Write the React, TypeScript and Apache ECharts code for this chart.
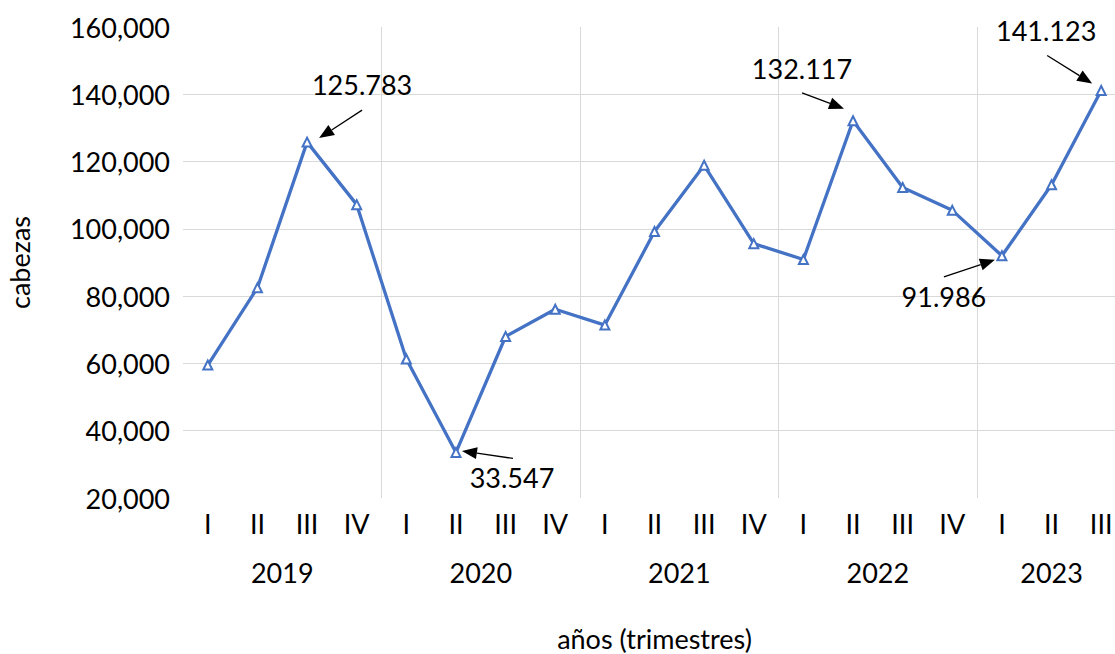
import { useEffect, useRef } from 'react';
import * as echarts from 'echarts';

// ---- data ----
const quarterLabels = ['I', 'II', 'III', 'IV', 'I', 'II', 'III', 'IV', 'I', 'II', 'III', 'IV', 'I', 'II', 'III', 'IV', 'I', 'II', 'III'];
const years = ['2019', '2020', '2021', '2022', '2023'];
const quartersPerYear = [4, 4, 4, 4, 3];
const cabezas = [59500, 82500, 125783, 107200, 61300, 33547, 68000, 76100, 71400, 99200, 118900, 95600, 90900, 132117, 112300, 105500, 91986, 113100, 141123];
const yMin = 20000;
const yMax = 160000;
const yStep = 20000;
const annotatedIndices = [2, 5, 13, 16, 18];

// ---- annotation layout (pixel offsets from the data point) ----
const annotationLayout = [
  { text: [55, -58], tail: [55, -32], tip: [12, -4] },
  { text: [56, 25], tail: [57, 6], tip: [6, -1.5] },
  { text: [-51, -52], tail: [-51, -28], tip: [-9, -12] },
  { text: [-58, 41], tail: [-58, 21], tip: [-7, 4] },
  { text: [-55, -60], tail: [-54, -35], tip: [-9, -7] },
];

const FONT = 'Lato, "Open Sans", sans-serif';
const FONT_SIZE = 27;
const BLUE = '#4472C4';
const GRID = '#d9d9d9';

export default function App() {
  const ref = useRef<HTMLDivElement>(null);

  useEffect(() => {
    const chart = echarts.init(ref.current!, null, { renderer: 'svg' });

    const boundaries: number[] = [];
    const yearCenters: number[] = [];
    let acc = 0;
    quartersPerYear.forEach((n, i) => {
      yearCenters.push(acc + n / 2);
      acc += n;
      if (i < quartersPerYear.length - 1) boundaries.push(acc);
    });

    const option: any = {
      animation: false,
      backgroundColor: '#fff',
      textStyle: { fontFamily: FONT },
      grid: { left: 183, width: 943, top: 27, height: 471, containLabel: false, outerBoundsMode: 'none' },
      xAxis: [
        {
          type: 'category',
          data: quarterLabels,
          boundaryGap: true,
          axisLine: { show: false },
          axisTick: { show: false },
          axisLabel: { interval: 0, margin: 12, color: '#000', fontSize: FONT_SIZE, fontFamily: FONT },
          splitLine: {
            show: true,
            interval: (i: number) => boundaries.includes(i),
            lineStyle: { color: GRID, width: 1 },
          },
          name: 'años (trimestres)',
          nameLocation: 'middle',
          nameGap: 127,
          nameTextStyle: { color: '#000', fontSize: FONT_SIZE, fontFamily: FONT, lineHeight: 27 },
        },
        {
          type: 'value',
          position: 'bottom',
          min: 0,
          max: acc,
          axisLine: { show: false },
          axisTick: { show: false },
          splitLine: { show: false },
          axisLabel: {
            customValues: yearCenters,
            margin: 61,
            color: '#000',
            fontSize: FONT_SIZE,
            fontFamily: FONT,
            formatter: (v: number) => {
              const k = yearCenters.findIndex((c) => Math.abs(c - v) < 1e-6);
              return k >= 0 ? years[k] : '';
            },
          },
        },
      ],
      yAxis: {
        type: 'value',
        min: yMin,
        max: yMax,
        interval: yStep,
        axisLine: { show: false },
        axisTick: { show: false },
        axisLabel: {
          margin: 13,
          color: '#000',
          fontSize: FONT_SIZE,
          fontFamily: FONT,
          formatter: (v: number) => v.toLocaleString('en-US'),
        },
        splitLine: { show: true, showMinLine: false, showMaxLine: false, lineStyle: { color: GRID, width: 1 } },
        name: 'cabezas',
        nameLocation: 'middle',
        nameRotate: 90,
        nameGap: 150,
        nameTextStyle: { color: '#000', fontSize: FONT_SIZE, fontFamily: FONT, lineHeight: 27 },
      },
      series: [
        {
          type: 'line',
          xAxisIndex: 0,
          yAxisIndex: 0,
          data: cabezas,
          symbol: 'triangle',
          symbolSize: 9,
          showAllSymbol: true,
          lineStyle: { color: BLUE, width: 3.3 },
          itemStyle: { color: '#fff', borderColor: BLUE, borderWidth: 2 },
          z: 3,
        },
      ],
    };

    chart.setOption(option);

    const graphics: any[] = [];
    annotatedIndices.forEach((idx, k) => {
      const lay = annotationLayout[k];
      const p = chart.convertToPixel({ seriesIndex: 0 }, [idx, cabezas[idx]]) as number[];
      if (!p) return;
      const tx = p[0] + lay.text[0];
      const ty = p[1] + lay.text[1];
      const ax = p[0] + lay.tail[0];
      const ay = p[1] + lay.tail[1];
      const bx = p[0] + lay.tip[0];
      const by = p[1] + lay.tip[1];
      const dx = bx - ax;
      const dy = by - ay;
      const len = Math.sqrt(dx * dx + dy * dy) || 1;
      const ux = dx / len;
      const uy = dy / len;
      const headLen = 15;
      const headHalf = 6;
      const baseX = bx - ux * headLen;
      const baseY = by - uy * headLen;
      graphics.push({
        type: 'line',
        shape: { x1: ax, y1: ay, x2: baseX, y2: baseY },
        style: { stroke: '#000', lineWidth: 1.3 },
        z: 100,
      });
      graphics.push({
        type: 'polygon',
        shape: {
          points: [
            [bx, by],
            [baseX - uy * headHalf, baseY + ux * headHalf],
            [baseX + uy * headHalf, baseY - ux * headHalf],
          ],
        },
        style: { fill: '#000' },
        z: 100,
      });
      graphics.push({
        type: 'text',
        x: tx,
        y: ty,
        style: {
          text: cabezas[idx].toLocaleString('de-DE'),
          fill: '#000',
          fontSize: FONT_SIZE,
          fontFamily: FONT,
          align: 'center',
          verticalAlign: 'middle',
        },
        z: 100,
      });
    });
    chart.setOption({ graphic: graphics });

    return () => chart.dispose();
  }, []);

  return (
    <div
      ref={ref}
      style={{ position: 'fixed', left: 0, top: 0, width: 1115, height: 654, background: '#fff' }}
    />
  );
}
